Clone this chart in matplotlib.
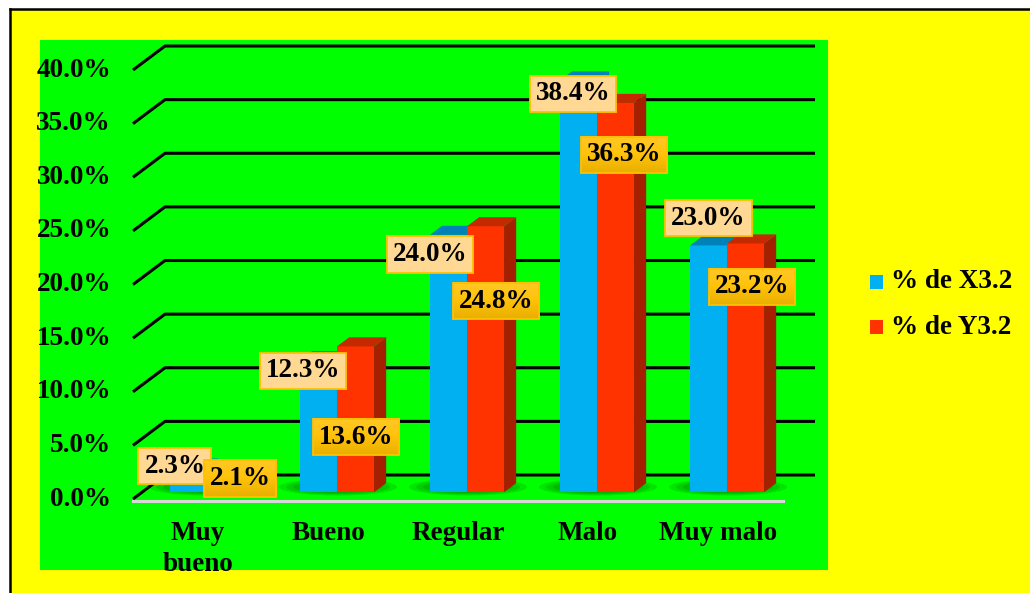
import numpy as np
import matplotlib
matplotlib.use("Agg")
import matplotlib.pyplot as plt
from matplotlib.patches import Polygon, Rectangle, Ellipse
from matplotlib.lines import Line2D
from matplotlib.colors import LinearSegmentedColormap

# ---- data ----
categories = ["Muy\nbueno", "Bueno", "Regular", "Malo", "Muy malo"]
pct_x32 = [2.3, 12.3, 24.0, 38.4, 23.0]
pct_y32 = [2.1, 13.6, 24.8, 36.3, 23.2]
series_names = ["% de X3.2", "% de Y3.2"]
y_ticks = [0, 5, 10, 15, 20, 25, 30, 35, 40]

# ---- style ----
FONT = dict(family="Liberation Serif", weight="bold", size=19.5)
BLUE, BLUE_TOP = "#00B0F0", "#0082B8"
RED, RED_TOP, RED_SIDE = "#FF3300", "#C42A00", "#A52000"
GREEN = "#00FF00"
BOX_X = dict(boxstyle="square,pad=0.22", fc="#FFD994", ec="#FFC000", lw=1.3)
BOX_Y = dict(boxstyle="square,pad=0.22", fc="none", ec="#FFC000", lw=1.3)
GOLD = LinearSegmentedColormap.from_list("gold", ["#E9AF00", "#FFC20A", "#FFC826"])

W, H = 1030, 593
fig = plt.figure(figsize=(W / 100, H / 100), dpi=100)
fig.patch.set_facecolor("white")
fig.add_artist(Rectangle((10 / W, 0), 1, 1 - 9 / H, transform=fig.transFigure,
                         facecolor="#FFFF00", edgecolor="none", zorder=0))
fig.add_artist(Line2D([10 / W, 10 / W], [0, 1 - 9 / H], transform=fig.transFigure,
                      color="black", lw=1.8, zorder=1))
fig.add_artist(Line2D([10 / W, 1], [1 - 9 / H, 1 - 9 / H], transform=fig.transFigure,
                      color="black", lw=1.8, zorder=1))

ax = fig.add_axes([40 / W, (H - 570) / H, 788 / W, 530 / H])
ax.set_facecolor(GREEN)
for s in ax.spines.values():
    s.set_visible(False)
ax.set_xticks([])
ax.set_yticks([])
ax.set_xlim(-1.2154, 4.846)
ax.set_ylim(-6.62, 42.80)
ax.set_autoscale_on(False)

n = len(categories)
DEPTH = (32.0, 24.0)        # pixel offset of the back wall
D0, D1 = 0.28, 0.66         # bar front / back depth fraction
BW = 0.285                  # bar width in category units


def shift(x, y, d=0.0, ox=0.0, oy=0.0):
    px, py = ax.transData.transform((x, y))
    return tuple(ax.transData.inverted().transform(
        (px + DEPTH[0] * d + ox, py + DEPTH[1] * d + oy)))


# gridlines: slanted side segment + back wall line
for t in y_ticks:
    pts = [shift(-0.5, t), shift(-0.5, t, 1), shift(n - 0.5, t, 1)]
    ax.plot(*zip(*pts), color="black", lw=2.2, zorder=1, solid_capstyle="butt")
# floor front edge
ax.plot(*zip(shift(-0.5, 0, 0, 0, -1.5), shift(n - 0.5, 0, 0, 0, -1.5)),
        color="#D8D8D8", lw=2.2, zorder=2)

# soft shadows under each bar pair
for i in range(n):
    c = shift(i, 0, 0, 10, 12)
    for k in range(6):
        f = 1 - k * 0.12
        ax.add_patch(Ellipse(c, 118 / 130 * f, 17 / 10.725 * f, color="#003A00",
                             alpha=0.13, lw=0, zorder=2))


def bar3d(x0, x1, v, front, top, side):
    ax.add_patch(Polygon([shift(x0, 0, D0), shift(x1, 0, D0), shift(x1, v, D0),
                          shift(x0, v, D0)], closed=True, fc=front, ec="none", zorder=3))
    ax.add_patch(Polygon([shift(x0, v, D0), shift(x1, v, D0), shift(x1, v, D1),
                          shift(x0, v, D1)], closed=True, fc=top, ec="none", zorder=3))
    ax.add_patch(Polygon([shift(x1, 0, D0), shift(x1, 0, D1), shift(x1, v, D1),
                          shift(x1, v, D0)], closed=True, fc=side, ec="none", zorder=3))


for i in range(n):
    bar3d(i - BW, i, pct_x32[i], BLUE, BLUE_TOP, BLUE_TOP)
    bar3d(i, i + BW, pct_y32[i], RED, RED_TOP, RED_SIDE)

# value labels (offsets in pixels from the bar's top front centre)
off_x = [(-13.5, 1.6), (-15.5, -10.6), (-18.5, -20.0), (-5.5, -13.5), (0.0, 27.6)]
off_y = [(14.5, -9.0), (0.5, -90.6), (10.5, -74.7), (8.5, -52.0), (6.5, -43.5)]
for i in range(n):
    ax.annotate(f"{pct_x32[i]:.1f}%", xy=shift(i - BW / 2, pct_x32[i], D0),
                xytext=off_x[i], textcoords="offset pixels", ha="center", va="center",
                bbox=BOX_X, zorder=5, annotation_clip=False, **FONT)
y_labels = []
for i in range(n):
    y_labels.append(ax.annotate(
        f"{pct_y32[i]:.1f}%", xy=shift(i + BW / 2, pct_y32[i], D0),
        xytext=off_y[i], textcoords="offset pixels", ha="center", va="center",
        bbox=BOX_Y, zorder=6, annotation_clip=False, **FONT))

# y tick labels
for t in y_ticks:
    x, y = shift(-0.5, t, 0, -22, 0)
    ax.text(x, y, f"{t:.1f}%", ha="right", va="center", zorder=4, **FONT)

# category labels
for i, c in enumerate(categories):
    x, y = shift(i, 0, 0, 0, -22)
    ax.text(x, y, c, ha="center", va="top", linespacing=1.3, zorder=4, **FONT)

# legend
for k, (col, name) in enumerate(zip([BLUE, RED], series_names)):
    yc = 282 + 45 * k
    fig.add_artist(Rectangle((870 / W, 1 - (yc + 7) / H), 13 / W, 14 / H,
                             transform=fig.transFigure, fc=col, ec="none", zorder=3))
    fig.text(891 / W, 1 - yc / H, name, ha="left", va="center", **FONT)

# vertical gold gradient fill behind the second series' label boxes
fig.canvas.draw()
grad = np.linspace(0, 1, 64).reshape(-1, 1)
inv = ax.transData.inverted()
for lab in y_labels:
    bb = lab.get_bbox_patch().get_window_extent()
    (x0, y0), (x1, y1) = inv.transform([(bb.x0, bb.y0), (bb.x1, bb.y1)])
    ax.imshow(grad, cmap=GOLD, origin="lower", extent=(x0, x1, y0, y1),
              aspect="auto", interpolation="bilinear", zorder=5.5)
ax.set_xlim(-1.2154, 4.846)
ax.set_ylim(-6.62, 42.80)

fig.savefig("out.png", dpi=100)
